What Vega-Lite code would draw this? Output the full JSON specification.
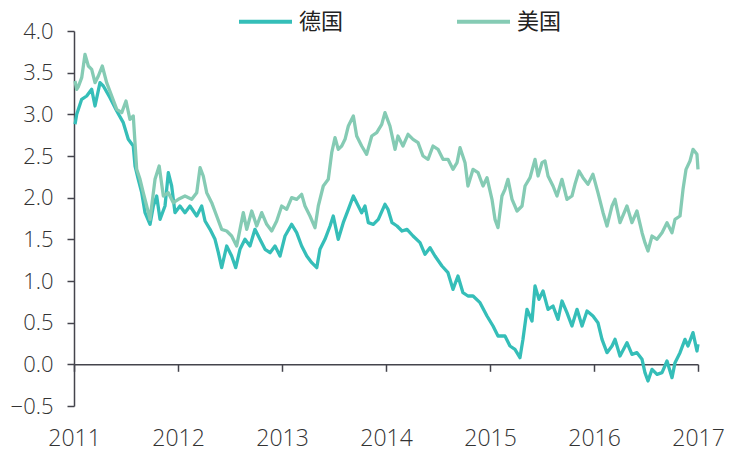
{
  "$schema": "https://vega.github.io/schema/vega-lite/v6.json",
  "width": 624,
  "height": 375,
  "autosize": {"type": "none"},
  "padding": {"left": 74, "top": 31, "right": 31, "bottom": 47},
  "background": "white",
  "config": {"view": {"stroke": null}, "font": "Open Sans"},
  "data": {"values": [
    {"c":"德国","t":2011.010,"v":2.88},{"c":"德国","t":2011.026,"v":3.00},{"c":"德国","t":2011.074,"v":3.18},{"c":"德国","t":2011.122,"v":3.22},{"c":"德国","t":2011.170,"v":3.30},
    {"c":"德国","t":2011.202,"v":3.10},{"c":"德国","t":2011.250,"v":3.38},{"c":"德国","t":2011.282,"v":3.34},{"c":"德国","t":2011.346,"v":3.20},{"c":"德国","t":2011.411,"v":3.04},
    {"c":"德国","t":2011.474,"v":2.90},{"c":"德国","t":2011.522,"v":2.70},{"c":"德国","t":2011.570,"v":2.62},{"c":"德国","t":2011.587,"v":2.38},{"c":"德国","t":2011.618,"v":2.22},
    {"c":"德国","t":2011.651,"v":2.06},{"c":"德国","t":2011.683,"v":1.82},{"c":"德国","t":2011.731,"v":1.68},{"c":"德国","t":2011.763,"v":1.90},{"c":"德国","t":2011.795,"v":2.02},
    {"c":"德国","t":2011.827,"v":1.74},{"c":"德国","t":2011.875,"v":1.90},{"c":"德国","t":2011.907,"v":2.30},{"c":"德国","t":2011.939,"v":2.14},{"c":"德国","t":2011.971,"v":1.82},
    {"c":"德国","t":2012.019,"v":1.90},{"c":"德国","t":2012.067,"v":1.82},{"c":"德国","t":2012.115,"v":1.90},{"c":"德国","t":2012.180,"v":1.78},{"c":"德国","t":2012.228,"v":1.90},
    {"c":"德国","t":2012.260,"v":1.72},{"c":"德国","t":2012.308,"v":1.62},{"c":"德国","t":2012.356,"v":1.50},{"c":"德国","t":2012.388,"v":1.34},{"c":"德国","t":2012.420,"v":1.16},
    {"c":"德国","t":2012.468,"v":1.42},{"c":"德国","t":2012.516,"v":1.30},{"c":"德国","t":2012.555,"v":1.16},{"c":"德国","t":2012.596,"v":1.38},{"c":"德国","t":2012.644,"v":1.50},
    {"c":"德国","t":2012.692,"v":1.42},{"c":"德国","t":2012.740,"v":1.62},{"c":"德国","t":2012.788,"v":1.50},{"c":"德国","t":2012.837,"v":1.38},{"c":"德国","t":2012.885,"v":1.34},
    {"c":"德国","t":2012.933,"v":1.42},{"c":"德国","t":2012.981,"v":1.30},{"c":"德国","t":2013.029,"v":1.54},{"c":"德国","t":2013.093,"v":1.68},{"c":"德国","t":2013.141,"v":1.58},
    {"c":"德国","t":2013.189,"v":1.42},{"c":"德国","t":2013.238,"v":1.30},{"c":"德国","t":2013.286,"v":1.22},{"c":"德国","t":2013.334,"v":1.16},{"c":"德国","t":2013.365,"v":1.38},
    {"c":"德国","t":2013.413,"v":1.50},{"c":"德国","t":2013.462,"v":1.66},{"c":"德国","t":2013.493,"v":1.78},{"c":"德国","t":2013.541,"v":1.50},{"c":"德国","t":2013.589,"v":1.70},
    {"c":"德国","t":2013.638,"v":1.86},{"c":"德国","t":2013.686,"v":2.02},{"c":"德国","t":2013.718,"v":1.94},{"c":"德国","t":2013.766,"v":1.82},{"c":"德国","t":2013.798,"v":1.90},
    {"c":"德国","t":2013.830,"v":1.70},{"c":"德国","t":2013.878,"v":1.68},{"c":"德国","t":2013.926,"v":1.74},{"c":"德国","t":2013.990,"v":1.92},{"c":"德国","t":2014.019,"v":1.86},
    {"c":"德国","t":2014.058,"v":1.70},{"c":"德国","t":2014.106,"v":1.66},{"c":"德国","t":2014.154,"v":1.60},{"c":"德国","t":2014.202,"v":1.62},{"c":"德国","t":2014.260,"v":1.54},
    {"c":"德国","t":2014.327,"v":1.46},{"c":"德国","t":2014.375,"v":1.32},{"c":"德国","t":2014.423,"v":1.40},{"c":"德国","t":2014.471,"v":1.30},{"c":"德国","t":2014.538,"v":1.18},
    {"c":"德国","t":2014.596,"v":1.10},{"c":"德国","t":2014.644,"v":0.90},{"c":"德国","t":2014.692,"v":1.06},{"c":"德国","t":2014.740,"v":0.86},{"c":"德国","t":2014.788,"v":0.82},
    {"c":"德国","t":2014.837,"v":0.82},{"c":"德国","t":2014.904,"v":0.74},{"c":"德国","t":2014.971,"v":0.58},{"c":"德国","t":2015.029,"v":0.46},{"c":"德国","t":2015.077,"v":0.34},
    {"c":"德国","t":2015.144,"v":0.34},{"c":"德国","t":2015.192,"v":0.22},{"c":"德国","t":2015.240,"v":0.18},{"c":"德国","t":2015.288,"v":0.08},{"c":"德国","t":2015.317,"v":0.30},
    {"c":"德国","t":2015.356,"v":0.66},{"c":"德国","t":2015.404,"v":0.52},{"c":"德国","t":2015.433,"v":0.94},{"c":"德国","t":2015.471,"v":0.78},{"c":"德国","t":2015.510,"v":0.88},
    {"c":"德国","t":2015.558,"v":0.66},{"c":"德国","t":2015.606,"v":0.70},{"c":"德国","t":2015.654,"v":0.54},{"c":"德国","t":2015.692,"v":0.76},{"c":"德国","t":2015.740,"v":0.62},
    {"c":"德国","t":2015.788,"v":0.46},{"c":"德国","t":2015.837,"v":0.66},{"c":"德国","t":2015.885,"v":0.46},{"c":"德国","t":2015.933,"v":0.64},{"c":"德国","t":2015.990,"v":0.58},
    {"c":"德国","t":2016.038,"v":0.50},{"c":"德国","t":2016.077,"v":0.30},{"c":"德国","t":2016.125,"v":0.14},{"c":"德国","t":2016.173,"v":0.22},{"c":"德国","t":2016.202,"v":0.30},
    {"c":"德国","t":2016.250,"v":0.10},{"c":"德国","t":2016.317,"v":0.26},{"c":"德国","t":2016.365,"v":0.12},{"c":"德国","t":2016.413,"v":0.14},{"c":"德国","t":2016.462,"v":0.06},
    {"c":"德国","t":2016.490,"v":-0.10},{"c":"德国","t":2016.519,"v":-0.20},{"c":"德国","t":2016.558,"v":-0.06},{"c":"德国","t":2016.606,"v":-0.12},{"c":"德国","t":2016.654,"v":-0.10},
    {"c":"德国","t":2016.702,"v":0.04},{"c":"德国","t":2016.750,"v":-0.16},{"c":"德国","t":2016.779,"v":0.02},{"c":"德国","t":2016.827,"v":0.14},{"c":"德国","t":2016.875,"v":0.30},
    {"c":"德国","t":2016.904,"v":0.22},{"c":"德国","t":2016.952,"v":0.38},{"c":"德国","t":2016.990,"v":0.16},{"c":"德国","t":2017.000,"v":0.24},
    {"c":"美国","t":2011.010,"v":3.40},{"c":"美国","t":2011.026,"v":3.30},{"c":"美国","t":2011.041,"v":3.33},{"c":"美国","t":2011.074,"v":3.44},{"c":"美国","t":2011.106,"v":3.72},
    {"c":"美国","t":2011.138,"v":3.58},{"c":"美国","t":2011.170,"v":3.54},{"c":"美国","t":2011.202,"v":3.38},{"c":"美国","t":2011.234,"v":3.46},{"c":"美国","t":2011.272,"v":3.58},
    {"c":"美国","t":2011.314,"v":3.38},{"c":"美国","t":2011.363,"v":3.22},{"c":"美国","t":2011.411,"v":3.06},{"c":"美国","t":2011.459,"v":3.02},{"c":"美国","t":2011.500,"v":3.16},
    {"c":"美国","t":2011.538,"v":2.94},{"c":"美国","t":2011.570,"v":2.98},{"c":"美国","t":2011.603,"v":2.34},{"c":"美国","t":2011.635,"v":2.22},{"c":"美国","t":2011.666,"v":2.06},
    {"c":"美国","t":2011.699,"v":1.90},{"c":"美国","t":2011.731,"v":1.74},{"c":"美国","t":2011.779,"v":2.22},{"c":"美国","t":2011.819,"v":2.38},{"c":"美国","t":2011.859,"v":2.02},
    {"c":"美国","t":2011.907,"v":2.06},{"c":"美国","t":2011.955,"v":1.94},{"c":"美国","t":2012.003,"v":1.98},{"c":"美国","t":2012.067,"v":2.02},{"c":"美国","t":2012.132,"v":1.98},
    {"c":"美国","t":2012.180,"v":2.06},{"c":"美国","t":2012.212,"v":2.36},{"c":"美国","t":2012.243,"v":2.26},{"c":"美国","t":2012.276,"v":2.06},{"c":"美国","t":2012.324,"v":1.94},
    {"c":"美国","t":2012.372,"v":1.78},{"c":"美国","t":2012.420,"v":1.62},{"c":"美国","t":2012.468,"v":1.60},{"c":"美国","t":2012.516,"v":1.54},{"c":"美国","t":2012.564,"v":1.42},
    {"c":"美国","t":2012.596,"v":1.62},{"c":"美国","t":2012.628,"v":1.82},{"c":"美国","t":2012.661,"v":1.62},{"c":"美国","t":2012.709,"v":1.84},{"c":"美国","t":2012.757,"v":1.66},
    {"c":"美国","t":2012.805,"v":1.82},{"c":"美国","t":2012.853,"v":1.68},{"c":"美国","t":2012.901,"v":1.60},{"c":"美国","t":2012.949,"v":1.72},{"c":"美国","t":2012.997,"v":1.90},
    {"c":"美国","t":2013.045,"v":1.86},{"c":"美国","t":2013.093,"v":2.00},{"c":"美国","t":2013.141,"v":1.98},{"c":"美国","t":2013.189,"v":2.04},{"c":"美国","t":2013.221,"v":1.90},
    {"c":"美国","t":2013.269,"v":1.78},{"c":"美国","t":2013.317,"v":1.64},{"c":"美国","t":2013.349,"v":1.90},{"c":"美国","t":2013.397,"v":2.14},{"c":"美国","t":2013.445,"v":2.22},
    {"c":"美国","t":2013.478,"v":2.54},{"c":"美国","t":2013.510,"v":2.72},{"c":"美国","t":2013.541,"v":2.58},{"c":"美国","t":2013.574,"v":2.62},{"c":"美国","t":2013.606,"v":2.70},
    {"c":"美国","t":2013.638,"v":2.86},{"c":"美国","t":2013.686,"v":2.98},{"c":"美国","t":2013.718,"v":2.74},{"c":"美国","t":2013.766,"v":2.62},{"c":"美国","t":2013.814,"v":2.52},
    {"c":"美国","t":2013.863,"v":2.74},{"c":"美国","t":2013.911,"v":2.78},{"c":"美国","t":2013.959,"v":2.88},{"c":"美国","t":2013.990,"v":3.02},{"c":"美国","t":2014.038,"v":2.86},
    {"c":"美国","t":2014.087,"v":2.58},{"c":"美国","t":2014.115,"v":2.74},{"c":"美国","t":2014.163,"v":2.62},{"c":"美国","t":2014.212,"v":2.76},{"c":"美国","t":2014.260,"v":2.70},
    {"c":"美国","t":2014.308,"v":2.66},{"c":"美国","t":2014.356,"v":2.50},{"c":"美国","t":2014.404,"v":2.46},{"c":"美国","t":2014.452,"v":2.62},{"c":"美国","t":2014.500,"v":2.58},
    {"c":"美国","t":2014.548,"v":2.46},{"c":"美国","t":2014.596,"v":2.46},{"c":"美国","t":2014.644,"v":2.34},{"c":"美国","t":2014.683,"v":2.42},{"c":"美国","t":2014.712,"v":2.60},
    {"c":"美国","t":2014.760,"v":2.42},{"c":"美国","t":2014.788,"v":2.14},{"c":"美国","t":2014.837,"v":2.34},{"c":"美国","t":2014.885,"v":2.30},{"c":"美国","t":2014.933,"v":2.14},
    {"c":"美国","t":2014.971,"v":2.24},{"c":"美国","t":2015.019,"v":1.98},{"c":"美国","t":2015.048,"v":1.74},{"c":"美国","t":2015.077,"v":1.64},{"c":"美国","t":2015.115,"v":2.02},
    {"c":"美国","t":2015.144,"v":2.10},{"c":"美国","t":2015.173,"v":2.22},{"c":"美国","t":2015.212,"v":1.98},{"c":"美国","t":2015.260,"v":1.84},{"c":"美国","t":2015.308,"v":1.90},
    {"c":"美国","t":2015.337,"v":2.14},{"c":"美国","t":2015.385,"v":2.24},{"c":"美国","t":2015.433,"v":2.46},{"c":"美国","t":2015.462,"v":2.26},{"c":"美国","t":2015.500,"v":2.42},
    {"c":"美国","t":2015.529,"v":2.44},{"c":"美国","t":2015.558,"v":2.26},{"c":"美国","t":2015.606,"v":2.14},{"c":"美国","t":2015.644,"v":2.02},{"c":"美国","t":2015.692,"v":2.22},
    {"c":"美国","t":2015.740,"v":1.98},{"c":"美国","t":2015.788,"v":2.02},{"c":"美国","t":2015.817,"v":2.16},{"c":"美国","t":2015.856,"v":2.32},{"c":"美国","t":2015.894,"v":2.24},
    {"c":"美国","t":2015.942,"v":2.16},{"c":"美国","t":2015.990,"v":2.28},{"c":"美国","t":2016.038,"v":2.06},{"c":"美国","t":2016.087,"v":1.82},{"c":"美国","t":2016.125,"v":1.66},
    {"c":"美国","t":2016.173,"v":1.90},{"c":"美国","t":2016.202,"v":1.98},{"c":"美国","t":2016.250,"v":1.70},{"c":"美国","t":2016.317,"v":1.90},{"c":"美国","t":2016.365,"v":1.70},
    {"c":"美国","t":2016.413,"v":1.84},{"c":"美国","t":2016.462,"v":1.58},{"c":"美国","t":2016.490,"v":1.46},{"c":"美国","t":2016.519,"v":1.36},{"c":"美国","t":2016.558,"v":1.54},
    {"c":"美国","t":2016.606,"v":1.50},{"c":"美国","t":2016.654,"v":1.58},{"c":"美国","t":2016.702,"v":1.70},{"c":"美国","t":2016.750,"v":1.58},{"c":"美国","t":2016.779,"v":1.74},
    {"c":"美国","t":2016.827,"v":1.78},{"c":"美国","t":2016.856,"v":2.10},{"c":"美国","t":2016.885,"v":2.34},{"c":"美国","t":2016.923,"v":2.44},{"c":"美国","t":2016.952,"v":2.58},
    {"c":"美国","t":2016.990,"v":2.52},{"c":"美国","t":2017.000,"v":2.34}
  ]},
  "mark": {"type": "line", "strokeWidth": 3.3, "strokeJoin": "round"},
  "encoding": {
    "x": {
      "field": "t", "type": "quantitative",
      "scale": {"domain": [2011, 2017], "nice": false, "zero": false},
      "axis": {
        "values": [2011, 2012, 2013, 2014, 2015, 2016, 2017], "format": "d", "title": null, "grid": false,
        "offset": -41.7, "domainColor": "#44444c", "domainWidth": 1.5, "tickColor": "#44444c", "tickWidth": 1.5, "tickSize": 7,
        "labelPadding": 56, "labelFontSize": 23, "labelColor": "#333333", "labelFont": "Open Sans", "labelFontWeight": 300,
        "labelFlush": false, "labelOverlap": false
      }
    },
    "y": {
      "field": "v", "type": "quantitative",
      "scale": {"domain": [-0.5, 4], "nice": false, "zero": false},
      "axis": {
        "values": [-0.5, 0, 0.5, 1, 1.5, 2, 2.5, 3, 3.5, 4], "format": ".1f", "title": null, "grid": false,
        "domainColor": "#44444c", "domainWidth": 1.5, "tickColor": "#44444c", "tickWidth": 1.5, "tickSize": 7,
        "labelPadding": 14, "labelFontSize": 22, "labelColor": "#333333", "labelFont": "Open Sans", "labelFontWeight": 300,
        "labelFlush": false, "labelOverlap": false
      }
    },
    "color": {
      "field": "c", "type": "nominal",
      "scale": {"domain": ["德国", "美国"], "range": ["#35BEB8", "#85CBB4"]},
      "legend": {
        "title": null, "orient": "none", "legendX": 163, "legendY": -38, "direction": "horizontal", "columns": 2,
        "symbolType": "stroke", "symbolSize": 2809, "symbolStrokeWidth": 4,
        "labelFontSize": 22, "labelFont": "Noto Sans CJK SC", "labelColor": "#222222", "labelOffset": 5,
        "columnPadding": 105, "padding": 0
      }
    }
  }
}
